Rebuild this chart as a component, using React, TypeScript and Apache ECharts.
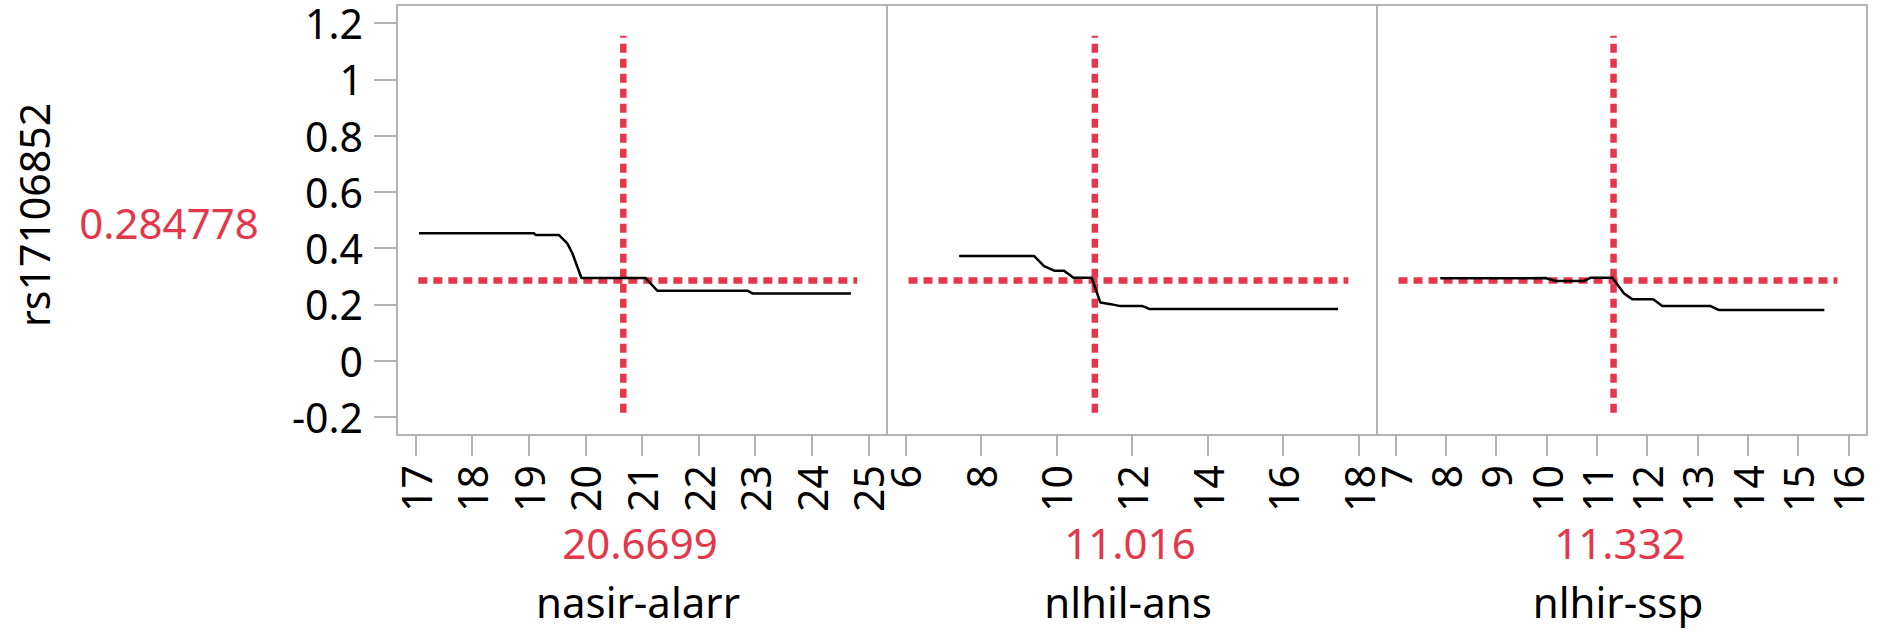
import React, { useEffect, useRef } from "react";
import * as echarts from "echarts";

// ---- data ----
const yTitle = "rs17106852";
const yRefValue = 0.284778;
const yRefLabel = "0.284778";
const yTicks = [-0.2, 0, 0.2, 0.4, 0.6, 0.8, 1, 1.2];

const panelNames = ["nasir-alarr", "nlhil-ans", "nlhir-ssp"];
const panelRefValues = [20.6699, 11.016, 11.332];
const panelRefLabels = ["20.6699", "11.016", "11.332"];

const p1Ticks = [17, 18, 19, 20, 21, 22, 23, 24, 25];
const p2Ticks = [6, 8, 10, 12, 14, 16, 18];
const p3Ticks = [7, 8, 9, 10, 11, 12, 13, 14, 15, 16];

const p1X = [17.06, 19.09, 19.12, 19.53, 19.68, 19.77, 19.93, 21.06, 21.12, 21.27, 22.86, 22.95, 24.69];
const p1Y = [0.453, 0.453, 0.447, 0.447, 0.417, 0.382, 0.294, 0.294, 0.281, 0.249, 0.249, 0.239, 0.239];

const p2X = [7.42, 9.41, 9.67, 9.94, 10.2, 10.45, 10.93, 11.0, 11.16, 11.44, 11.69, 12.28, 12.46, 17.46];
const p2Y = [0.372, 0.372, 0.336, 0.32, 0.32, 0.295, 0.295, 0.269, 0.207, 0.201, 0.194, 0.194, 0.184, 0.184];

const p3X = [7.89, 9.58, 9.98, 10.18, 10.74, 10.88, 11.31, 11.54, 11.71, 12.12, 12.3, 13.26, 13.43, 15.52];
const p3Y = [0.293, 0.293, 0.294, 0.283, 0.283, 0.295, 0.295, 0.239, 0.218, 0.218, 0.194, 0.194, 0.18, 0.18];

// extents of the horizontal reference line in each panel (x units)
const refHStart = [17.05, 6.08, 7.06];
const refHEnd = [24.8, 17.73, 15.78];
// extent of the vertical reference line (y units)
const refVRange = [-0.185, 1.155];

const xMins = [16.673, 5.51, 6.632];
const xMaxs = [25.327, 18.49, 16.368];
const yMin = -0.264;
const yMax = 1.264;

// ---- styles ----
const RED = "#e5374b";
const FRAME = "#b3b3b3";
const FONT = "Noto Sans";
const gridLefts = [397, 887, 1377];
const gridW = 490;
const gridTop = 5;
const gridH = 430;

export default function App() {
  const ref = useRef<HTMLDivElement>(null);
  useEffect(() => {
    if (!ref.current) return;
    const chart = echarts.init(ref.current, undefined, { renderer: "svg" });
    const xsArr = [p1X, p2X, p3X];
    const ysArr = [p1Y, p2Y, p3Y];
    const ticksArr = [p1Ticks, p2Ticks, p3Ticks];

    const grids = gridLefts.map((l) => ({
      left: l,
      top: gridTop,
      width: gridW,
      height: gridH,
      show: true,
      borderColor: FRAME,
      borderWidth: 2,
      backgroundColor: "transparent",
    }));

    const xAxes = [0, 1, 2].map((i) => ({
      type: "value",
      gridIndex: i,
      position: "bottom",
      min: xMins[i],
      max: xMaxs[i],
      axisLine: { show: false, onZero: false },
      axisTick: {
        show: true,
        length: 21,
        customValues: ticksArr[i],
        lineStyle: { color: FRAME, width: 2 },
      },
      axisLabel: {
        rotate: 90,
        margin: 30,
        customValues: ticksArr[i],
        fontSize: 41,
        fontFamily: FONT,
        color: "#000",
        formatter: (v: number) => String(v),
      },
      splitLine: { show: false },
    }));

    const yAxes = [0, 1, 2].map((i) => ({
      type: "value",
      gridIndex: i,
      position: "left",
      min: yMin,
      max: yMax,
      axisLine: { show: false, onZero: false },
      axisTick: {
        show: i === 0,
        length: 23,
        customValues: yTicks,
        lineStyle: { color: FRAME, width: 2 },
      },
      axisLabel: {
        show: i === 0,
        margin: 34,
        customValues: yTicks,
        fontSize: 41,
        fontFamily: FONT,
        color: "#000",
        formatter: (v: number) => String(v),
      },
      splitLine: { show: false },
    }));

    const series: any[] = [];
    [0, 1, 2].forEach((i) => {
      series.push({
        type: "line",
        xAxisIndex: i,
        yAxisIndex: i,
        data: [
          [refHStart[i], yRefValue],
          [refHEnd[i], yRefValue],
        ],
        showSymbol: false,
        symbol: "none",
        silent: true,
        lineStyle: { color: RED, width: 6.5, type: [9, 6] },
        z: 2,
      });
      series.push({
        type: "line",
        xAxisIndex: i,
        yAxisIndex: i,
        data: [
          [panelRefValues[i], refVRange[0]],
          [panelRefValues[i], refVRange[1]],
        ],
        showSymbol: false,
        symbol: "none",
        silent: true,
        lineStyle: { color: RED, width: 6.5, type: [9, 6] },
        z: 2,
      });
      series.push({
        type: "line",
        xAxisIndex: i,
        yAxisIndex: i,
        data: xsArr[i].map((x, k) => [x, ysArr[i][k]]),
        showSymbol: false,
        symbol: "none",
        silent: true,
        lineStyle: { color: "#000", width: 2.5 },
        z: 3,
      });
    });

    const graphics: any[] = [
      {
        type: "text",
        x: 34,
        y: 215,
        rotation: Math.PI / 2,
        style: {
          text: yTitle,
          fontSize: 41,
          fontFamily: FONT,
          fill: "#000",
          align: "center",
          verticalAlign: "middle",
        },
      },
      {
        type: "text",
        x: 169,
        y: 222,
        style: {
          text: yRefLabel,
          fontSize: 42,
          fontFamily: FONT,
          fill: RED,
          align: "center",
          verticalAlign: "middle",
        },
      },
    ];
    [0, 1, 2].forEach((i) => {
      const cx = gridLefts[i] + gridW / 2;
      graphics.push({
        type: "text",
        x: cx - 2,
        y: 542,
        style: {
          text: panelRefLabels[i],
          fontSize: 42,
          fontFamily: FONT,
          fill: RED,
          align: "center",
          verticalAlign: "middle",
        },
      });
      graphics.push({
        type: "text",
        x: cx - 4,
        y: 601,
        style: {
          text: panelNames[i],
          fontSize: 42,
          fontFamily: FONT,
          fill: "#000",
          align: "center",
          verticalAlign: "middle",
        },
      });
    });

    chart.setOption({
      animation: false,
      backgroundColor: "#fff",
      grid: grids,
      xAxis: xAxes,
      yAxis: yAxes,
      series,
      graphic: graphics,
    });
    return () => chart.dispose();
  }, []);

  return (
    <div
      ref={ref}
      style={{ position: "fixed", left: 0, top: 0, width: 1887, height: 637 }}
    />
  );
}
